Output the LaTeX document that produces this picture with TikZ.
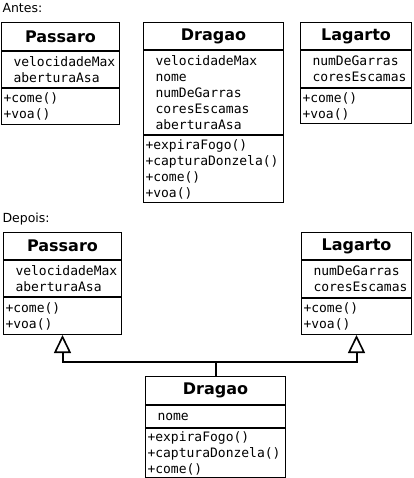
\documentclass[tikz,border=0pt]{standalone}
\usepackage{fontspec}
\setmainfont{DejaVu Sans}
\setmonofont{DejaVu Sans Mono}
\usetikzlibrary{arrows.meta, positioning}

\begin{document}
\begin{tikzpicture}[x=1pt, y=-1pt, line width=1pt,
  rotulo/.style={anchor=base west, inner sep=0pt, font=\fontsize{12.5}{15}\selectfont},
  title/.style={draw, anchor=north west, inner sep=0pt, minimum width=#1, font=\fontsize{16}{19}\selectfont\bfseries},
  part/.style={draw, anchor=north west, inner xsep=2pt, inner ysep=0pt, text width={#1-4pt}, align=left, font=\fontsize{13}{16}\selectfont\ttfamily},
  attrs/.style={part=#1, execute at begin node={\leftskip=10pt}},
  herda/.style={line width=2pt, -{Triangle[open, length=18pt, width=17pt, line width=1.6pt]}}]

  \useasboundingbox (0,0) rectangle (413,478);

  % Antes
  \node[rotulo] (s1) at (2,13) {Antes:};
  \node[title=118pt, minimum height=28pt] (P1) at (1,22) {Passaro};
  \node[attrs=118pt, minimum height=36pt] (P1a) at (P1.south west) {velocidadeMax\\aberturaAsa};
  \node[part=118pt, minimum height=36pt] (P1m) at (P1a.south west) {+come()\\+voa()};

  \node[title=140pt, minimum height=27pt] (D1) at (143,22) {Dragao};
  \node[attrs=140pt, minimum height=84pt] (D1a) at (D1.south west) {velocidadeMax\\nome\\numDeGarras\\coresEscamas\\aberturaAsa};
  \node[part=140pt, minimum height=67pt] (D1m) at (D1a.south west) {+expiraFogo()\\+capturaDonzela()\\+come()\\+voa()};

  \node[title=111pt, minimum height=27pt] (L1) at (300,22) {Lagarto};
  \node[attrs=111pt, minimum height=37pt] (L1a) at (L1.south west) {numDeGarras\\coresEscamas};
  \node[part=111pt, minimum height=35pt] (L1m) at (L1a.south west) {+come()\\+voa()};

  % Depois
  \node[rotulo] (s2) at (2,222) {Depois:};
  \node[title=118pt, minimum height=27pt] (P2) at (3,232) {Passaro};
  \node[attrs=118pt, minimum height=36pt] (P2a) at (P2.south west) {velocidadeMax\\aberturaAsa};
  \node[part=118pt, minimum height=37pt] (P2m) at (P2a.south west) {+come()\\+voa()};

  \node[title=110pt, minimum height=27pt] (L2) at (301,232) {Lagarto};
  \node[attrs=110pt, minimum height=37pt] (L2a) at (L2.south west) {numDeGarras\\coresEscamas};
  \node[part=110pt, minimum height=36pt] (L2m) at (L2a.south west) {+come()\\+voa()};

  \node[title=140pt, minimum height=28pt] (D2) at (145,376) {Dragao};
  \node[attrs=140pt, minimum height=22pt] (D2a) at (D2.south west) {nome};
  \node[part=140pt, minimum height=49pt] (D2m) at (D2a.south west) {+expiraFogo()\\+capturaDonzela()\\+come()};

  \draw[herda] (D2.north) -- ++(0,-14) -| (P2m.south);
  \draw[herda] (D2.north) -- ++(0,-14) -| (L2m.south);

\end{tikzpicture}
\end{document}
